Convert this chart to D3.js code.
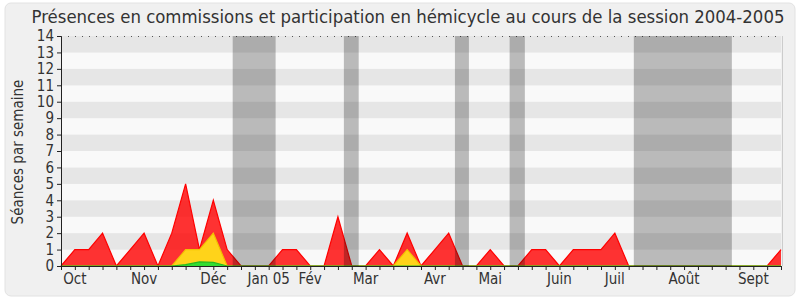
<!DOCTYPE html>
<html>
<head>
<meta charset="utf-8">
<style>
body { margin: 0; background: #fff; }
text { font-family: "DejaVu Sans Condensed", "DejaVu Sans", sans-serif; font-stretch: condensed; fill: #333; }
.axis text { font-size: 15px; }
</style>
</head>
<body>
<script src="https://cdn.jsdelivr.net/npm/d3@7"></script>
<script>

// one value per week, from the first week of October 2004 on
var red    = [0,1,1,2,0,1,2,0,2,5,1,4,1,0,0,0,1,1,0,0,3,0,0,1,0,2,0,1,2,0,0,1,0,0,1,1,0,1,1,1,2,0,0,0,0,0,0,0,0,0,0,0,1];
var yellow = [0,0,0,0,0,0,0,0,0,1,1,2,0,0,0,0,0,0,0,0,0,0,0,0,0,1,0,0,0,0,0,0,0,0,0,0,0,0,0,0,0,0,0,0,0,0,0,0,0,0,0,0,0];
var green  = [0,0,0,0,0,0,0,0,0,0.08,0.25,0.22,0,0,0,0,0,0,0,0,0,0,0,0,0,0,0,0,0,0,0,0,0,0,0,0,0,0,0,0,0,0,0,0,0,0,0,0,0,0,0,0,0];

// holidays (in weeks)
var bandStart = [12.4, 20.43, 28.45, 32.4, 41.37];
var bandEnd   = [15.5, 21.5, 29.46, 33.5, 48.45];

var monthWeeks  = [1, 6, 11, 15, 18, 22, 27, 31, 36, 40, 45, 50];
var monthLabels = ["Oct", "Nov", "Déc", "Jan 05", "Fév", "Mar", "Avr", "Mai", "Juin", "Juil", "Août", "Sept"];

var yMax = 14;

var width = 800, height = 300;
var plotLeft = 61, plotRight = 781, plotTop = 36, plotBottom = 266;

var svg = d3.select("body").append("svg")
    .attr("width", width)
    .attr("height", height);

// outer frame
svg.append("rect")
    .attr("x", 5).attr("y", 3)
    .attr("width", 790).attr("height", 293)
    .attr("rx", 6)
    .style("fill", "#f0f0f0")
    .style("stroke", "#e2e2e2");

var x = d3.scaleLinear().domain([0, red.length - 1]).range([plotLeft, plotRight]);
var y = d3.scaleLinear().domain([0, yMax]).range([plotBottom, plotTop]);

// striped background
svg.append("g").selectAll("rect")
    .data(d3.range(yMax))
    .enter().append("rect")
    .attr("x", plotLeft)
    .attr("width", plotRight - plotLeft)
    .attr("y", function(d) { return y(d + 1); })
    .attr("height", function(d) { return y(d) - y(d + 1); })
    .style("fill", function(d) { return d % 2 == 0 ? "#f9f9f9" : "#e6e6e6"; });

// dotted line at the top
svg.append("line")
    .attr("x1", plotLeft).attr("x2", plotRight)
    .attr("y1", y(yMax) + 0.5).attr("y2", y(yMax) + 0.5)
    .style("stroke", "#555")
    .style("stroke-dasharray", "1,6");

// right edge
svg.append("line")
    .attr("x1", plotRight + 1.5).attr("x2", plotRight + 1.5)
    .attr("y1", y(yMax)).attr("y2", y(0))
    .style("stroke", "#ccc");

function drawSeries(values, fill, stroke) {
  var area = d3.area()
      .x(function(d, i) { return x(i); })
      .y0(y(0))
      .y1(function(d) { return y(d); });
  var line = d3.line()
      .x(function(d, i) { return x(i); })
      .y(function(d) { return y(d); });
  svg.append("path")
      .datum(values)
      .attr("d", area)
      .style("fill", fill);
  svg.append("path")
      .datum(values)
      .attr("d", line)
      .style("fill", "none")
      .style("stroke", stroke)
      .style("stroke-width", 1.2);
}

drawSeries(red, "rgba(255,0,0,0.8)", "#ff0000");
drawSeries(yellow, "#ffd31a", "#f2c200");
drawSeries(green, "#33dd33", "#22bb22");

// holiday bands, drawn over the areas
svg.append("g").selectAll("rect")
    .data(bandStart)
    .enter().append("rect")
    .attr("x", function(d) { return x(d); })
    .attr("width", function(d, i) { return x(bandEnd[i]) - x(d); })
    .attr("y", y(yMax))
    .attr("height", y(0) - y(yMax))
    .style("fill", "rgba(0,0,0,0.25)");

// y axis
var yAxis = svg.append("g")
    .attr("class", "axis")
    .attr("transform", "translate(" + plotLeft + ",0)")
    .call(d3.axisLeft(y).ticks(yMax).tickSize(4).tickPadding(3).tickSizeOuter(0));
yAxis.select(".domain").style("stroke", "#222");
yAxis.selectAll(".tick line").style("stroke", "#222");
yAxis.selectAll("text").style("fill", "#333").style("font-size", "15px");
yAxis.attr("font-family", null).attr("font-size", null);

// x axis with a tick every week
var xAxis = svg.append("g")
    .attr("class", "axis")
    .attr("transform", "translate(0," + plotBottom + ")")
    .call(d3.axisBottom(x).tickValues(d3.range(red.length)).tickSize(4).tickSizeOuter(0).tickFormat(""));
xAxis.select(".domain").style("stroke", "#222");
xAxis.selectAll(".tick line").style("stroke", "#222");

svg.append("g").attr("class", "axis").selectAll("text")
    .data(monthWeeks)
    .enter().append("text")
    .attr("x", function(d) { return x(d); })
    .attr("y", plotBottom + 18)
    .attr("text-anchor", "middle")
    .text(function(d, i) { return monthLabels[i]; });

// y label
svg.append("text")
    .attr("transform", "translate(23," + (y(yMax / 2) + 1) + ") rotate(-90)")
    .attr("text-anchor", "middle")
    .style("font-size", "15px")
    .text("Séances par semaine");

// title
svg.append("text")
    .attr("x", 408)
    .attr("y", 23)
    .attr("text-anchor", "middle")
    .style("font-size", "18.4px")
    .text("Présences en commissions et participation en hémicycle au cours de la session 2004-2005");

</script>
</body>
</html>
